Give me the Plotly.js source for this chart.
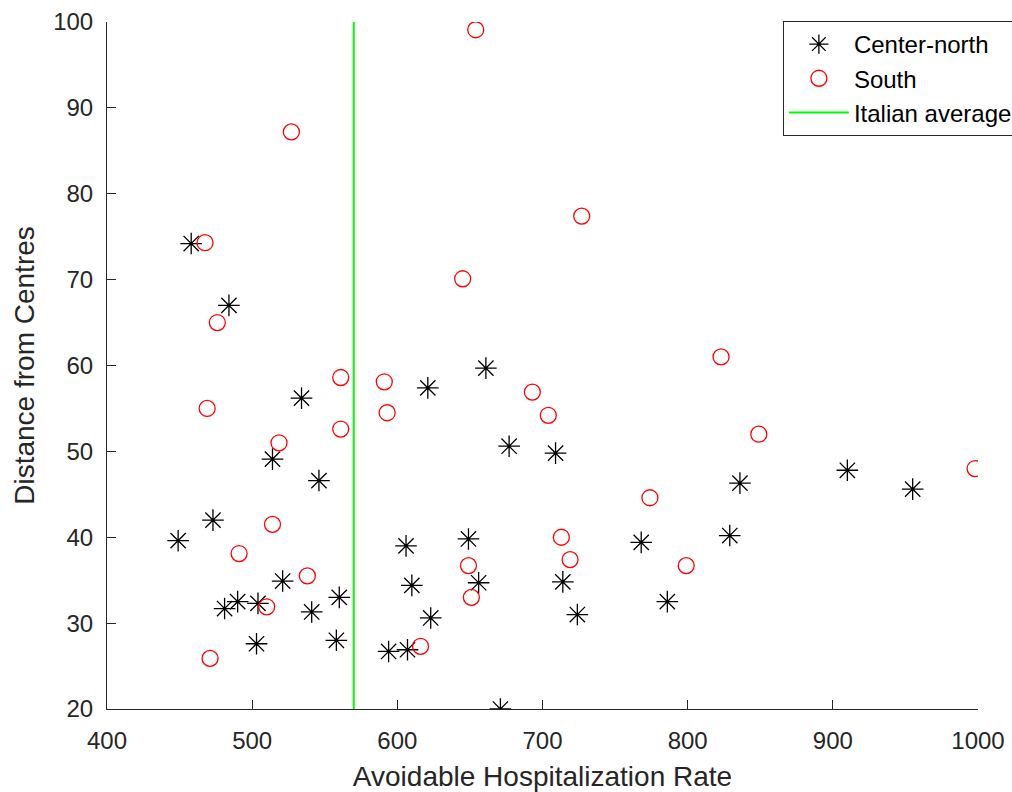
<!DOCTYPE html>
<html>
<head>
<meta charset="utf-8">
<script src="https://cdn.plot.ly/plotly-3.0.1.min.js"></script>
<style>html,body{margin:0;padding:0;background:#fff;}#chart{width:1012px;height:792px;}</style>
</head>
<body>
<div id="chart"></div>
<script>
// Center-north regions
const centerNorthRate = [458, 484, 534, 621, 661, 514, 546, 677, 709, 449, 473, 521, 481, 490, 504, 541, 560, 503, 558, 606, 649, 610, 656, 623, 594, 607, 671, 714, 724, 768, 786, 829, 836, 910, 955];
const centerNorthDist = [74.2, 67.0, 56.2, 57.4, 59.7, 49.1, 46.6, 50.6, 49.8, 39.6, 42.0, 34.9, 31.7, 32.5, 32.3, 31.3, 33.0, 27.6, 28.0, 39.0, 39.8, 34.4, 34.7, 30.6, 26.7, 26.9, 20.0, 34.8, 31.0, 39.4, 32.5, 40.2, 46.3, 47.8, 45.6];

// South regions
const southRate = [654, 527, 727, 467.5, 645, 476, 823, 561, 591, 693, 469, 593, 704, 561, 849, 518.5, 998, 774, 514, 713, 491, 719, 649, 799, 538, 651, 510, 616, 471];
const southDist = [99.1, 87.2, 77.4, 74.3, 70.1, 65.0, 61.0, 58.6, 58.1, 56.9, 55.0, 54.5, 54.2, 52.6, 52.0, 51.0, 48.0, 44.6, 41.5, 40.0, 38.1, 37.4, 36.7, 36.7, 35.5, 33.0, 31.9, 27.3, 25.9];

// Italian average
const italianAverage = 570;
const yRange = [20, 100];
const xRange = [400, 1000];

const seriesNames = ["Center-north", "South", "Italian average"];

const axisColor = "#262626";
const font = "Liberation Sans, Arial, Helvetica, sans-serif";

const traces = [
  {
    x: centerNorthRate, y: centerNorthDist, name: seriesNames[0],
    type: "scatter", mode: "markers", legendgroup: "a",
    marker: {symbol: "asterisk-open", size: 18, color: "#000000", line: {color: "#000000", width: 1.3}}
  },
  {
    x: southRate, y: southDist, name: seriesNames[1],
    type: "scatter", mode: "markers", legendgroup: "b",
    marker: {symbol: "circle-open", size: 16, color: "#ff0000", line: {color: "#ff0000", width: 1.3}}
  },
  {
    x: [italianAverage, italianAverage], y: yRange, name: seriesNames[2],
    type: "scatter", mode: "lines", legendgroup: "c",
    line: {color: "#00ff00", width: 2}
  }
];

const layout = {
  width: 1012, height: 792,
  margin: {l: 107, r: 34, t: 22, b: 83, autoexpand: false},
  paper_bgcolor: "#ffffff", plot_bgcolor: "#ffffff",
  font: {family: font, color: axisColor, size: 24},
  showlegend: true,
  legend: {
    x: 0.776, y: 1.0015, xanchor: "left", yanchor: "top",
    bgcolor: "#ffffff", bordercolor: axisColor, borderwidth: 1,
    font: {family: font, size: 24, color: "#000000"},
    itemwidth: 60, traceorder: "grouped", tracegroupgap: 0
  },
  xaxis: {
    range: xRange, dtick: 100, tick0: 400,
    showgrid: false, zeroline: false,
    showline: true, linecolor: axisColor, linewidth: 1, mirror: false,
    ticks: "inside", ticklen: 9, tickcolor: axisColor, tickwidth: 1,
    tickfont: {family: font, size: 24, color: axisColor},
    ticklabelstandoff: 10,
    title: {text: "Avoidable Hospitalization Rate", font: {family: font, size: 28, color: axisColor}, standoff: 14}
  },
  yaxis: {
    range: yRange, dtick: 10, tick0: 20,
    showgrid: false, zeroline: false,
    showline: true, linecolor: axisColor, linewidth: 1, mirror: false,
    ticks: "inside", ticklen: 9, tickcolor: axisColor, tickwidth: 1,
    tickfont: {family: font, size: 24, color: axisColor},
    ticklabelstandoff: 8,
    title: {text: "Distance from Centres", font: {family: font, size: 28, color: axisColor}, standoff: 10}
  }
};

Plotly.newPlot("chart", traces, layout, {displayModeBar: false, staticPlot: true});
</script>
</body>
</html>
